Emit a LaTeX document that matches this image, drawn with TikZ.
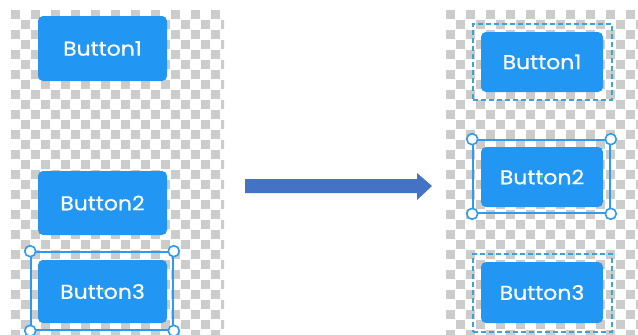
\documentclass[tikz,border=0pt]{standalone}
\usepackage{fontspec}
\setmainfont{Poppins}
\newfontfamily\btnfont[FakeStretch=1.1,FakeBold=0.6]{Poppins}
\begin{document}
\begin{tikzpicture}[x=1pt,y=-1pt,
  btn/.style={fill=btnblue, rounded corners=5pt, inner sep=0pt, text=white, font=\btnfont\fontsize{20}{22}\selectfont},
  selframe/.style={draw=selblue, line width=1.6pt, inner sep=0pt},
  dashframe/.style={draw=dashblue, line width=1.4pt, dash pattern=on 5pt off 3pt, inner sep=0pt},
  handle/.style={circle, draw=selblue, fill=white, line width=1.6pt, minimum size=11pt, inner sep=0pt},
  centermark/.style={fill=markteal, inner sep=0pt, minimum size=3pt}
]
\definecolor{btnblue}{HTML}{2196F3}
\definecolor{selblue}{HTML}{2E9BF0}
\definecolor{dashblue}{HTML}{3BA3D6}
\definecolor{checkgray}{HTML}{CCCCCC}
\definecolor{arrowblue}{HTML}{4472C4}
\definecolor{markteal}{HTML}{3CC8A8}
\useasboundingbox (0,0) rectangle (638,335);
\fill[white] (0,0) rectangle (638,335);
% checkerboards
\begin{scope}
\clip (11,10) rectangle (224,335);
\foreach \i in {0,...,21}{
  \foreach \j in {0,...,32}{
    \pgfmathtruncatemacro\p{mod(\i+\j,2)}
    \ifnum\p=0 \fill[checkgray] (11+\i*10,10+\j*10) rectangle ++(9,9);\fi
  }}
\end{scope}
\begin{scope}
\clip (446,10) rectangle (638,335);
\foreach \i in {0,...,19}{
  \foreach \j in {0,...,32}{
    \pgfmathtruncatemacro\p{mod(\i+\j,2)}
    \ifnum\p=0 \fill[checkgray] (446+\i*10,10+\j*10) rectangle ++(9,9);\fi
  }}
\end{scope}
% left buttons
\node[btn, minimum width=129pt, minimum height=65pt] (l1) at (102.5,48.5) {Button1};
\node[btn, minimum width=129pt, minimum height=64pt] (l2) at (102.5,203) {Button2};
\node[btn, minimum width=129pt, minimum height=63pt] (l3) at (102.5,291.5) {Button3};
\node[selframe, minimum width=142pt, minimum height=78pt] (lf3) at (102,291) {};
\foreach \c in {north west,north east,south west,south east}
  \node[handle] at (lf3.\c) {};
\node[centermark] at (103,290) {};
% right buttons
\node[btn, minimum width=122pt, minimum height=60pt] (r1) at (542,62) {Button1};
\node[btn, minimum width=122pt, minimum height=60pt] (r2) at (542,177) {Button2};
\node[btn, minimum width=122pt, minimum height=61pt] (r3) at (542,292.5) {Button3};
\node[dashframe, minimum width=139pt, minimum height=76pt] (rf1) at (542.5,62) {};
\node[selframe, minimum width=137pt, minimum height=73pt] (rf2) at (541.5,176.5) {};
\node[dashframe, minimum width=139pt, minimum height=78pt] (rf3) at (542.5,293) {};
\foreach \c in {north west,north east,south west,south east}
  \node[handle] at (rf2.\c) {};
\node[centermark] at (541,176) {};
% arrow
\coordinate (as) at (245,186);
\coordinate (ae) at (432,186);
\fill[arrowblue] (as) ++(0,-7) -- (417,179) -- (417,173) -- (ae) -- (417,200) -- (417,193) -- (245,193) -- cycle;
\end{tikzpicture}
\end{document}
